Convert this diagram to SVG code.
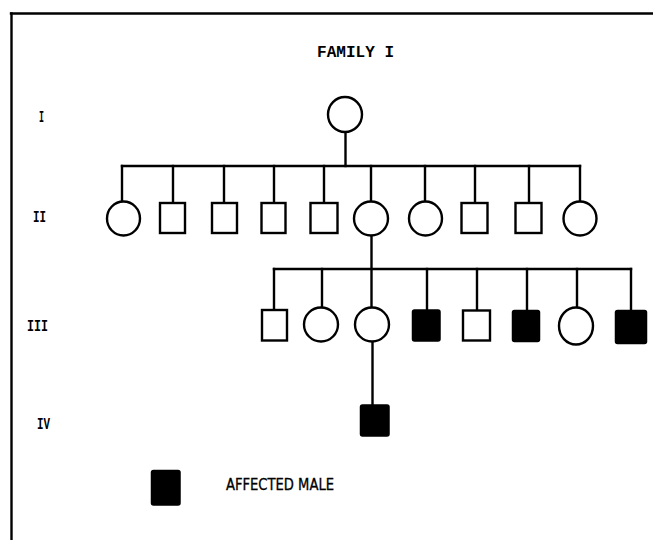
<svg xmlns="http://www.w3.org/2000/svg" width="653" height="540" viewBox="0 0 653 540">
<style>
.ln{stroke:#000;stroke-width:2.4;fill:none;stroke-linecap:square}
.m{fill:#fff;stroke:#000;stroke-width:2.4}
.f{fill:#fff;stroke:#000;stroke-width:2.4}
.a{fill:#000;stroke:#000;stroke-width:1.5}
.lab{font-family:"Liberation Mono","DejaVu Sans Mono",monospace;font-size:16px;font-weight:bold;fill:#000}
.ttl{font-family:"Liberation Mono","DejaVu Sans Mono",monospace;font-size:16px;font-weight:bold;fill:#000}
.leg{font-family:"DejaVu Sans Condensed","DejaVu Sans","Liberation Sans",sans-serif;font-size:15px;fill:#000;stroke:#000;stroke-width:0.3}
</style>
<rect width="653" height="540" fill="#fff"/>
<g id="frame">
<line class="ln" x1="11" y1="13.5" x2="653" y2="13.5"/>
<line class="ln" x1="11.5" y1="13.5" x2="11.5" y2="540"/>
</g>
<g id="title"><text class="ttl" x="317" y="57" textLength="77" lengthAdjust="spacingAndGlyphs">FAMILY I</text></g>
<g id="gen-labels">
<text class="lab" x="39" y="122" textLength="5" lengthAdjust="spacingAndGlyphs">I</text>
<text class="lab" x="33" y="222" textLength="13" lengthAdjust="spacingAndGlyphs">II</text>
<text class="lab" x="27" y="331" textLength="21" lengthAdjust="spacingAndGlyphs">III</text>
<text class="lab" x="37" y="429" textLength="13" lengthAdjust="spacingAndGlyphs">IV</text>
</g>
<g id="connectors">
<line class="ln" x1="345.5" y1="132" x2="345.5" y2="166"/>
<line class="ln" x1="122" y1="166" x2="580" y2="166"/>
<line class="ln" x1="122" y1="166" x2="122" y2="202"/>
<line class="ln" x1="173" y1="166" x2="173" y2="203"/>
<line class="ln" x1="224" y1="166" x2="224" y2="203"/>
<line class="ln" x1="274" y1="166" x2="274" y2="203"/>
<line class="ln" x1="324" y1="166" x2="324" y2="203"/>
<line class="ln" x1="371" y1="166" x2="371" y2="201"/>
<line class="ln" x1="425" y1="166" x2="425" y2="201"/>
<line class="ln" x1="475" y1="166" x2="475" y2="203"/>
<line class="ln" x1="529" y1="166" x2="529" y2="203"/>
<line class="ln" x1="580" y1="166" x2="580" y2="201"/>
<line class="ln" x1="371.5" y1="235" x2="371.5" y2="307"/>
<line class="ln" x1="274" y1="269" x2="631" y2="269"/>
<line class="ln" x1="274" y1="269" x2="274" y2="310"/>
<line class="ln" x1="322" y1="269" x2="322" y2="307"/>
<line class="ln" x1="427" y1="269" x2="427" y2="310"/>
<line class="ln" x1="477" y1="269" x2="477" y2="310"/>
<line class="ln" x1="527" y1="269" x2="527" y2="310"/>
<line class="ln" x1="577" y1="269" x2="577" y2="307"/>
<line class="ln" x1="631" y1="269" x2="631" y2="310"/>
<line class="ln" x1="372.5" y1="341" x2="372.5" y2="405"/>
</g>
<g id="I-1"><ellipse class="f" cx="345" cy="114.5" rx="17" ry="17.5"/></g>
<g id="II-1"><ellipse class="f" cx="123.5" cy="218.5" rx="16.5" ry="17"/></g>
<g id="II-2"><rect class="m" x="160" y="203" width="25" height="30"/></g>
<g id="II-3"><rect class="m" x="212" y="203" width="25" height="30"/></g>
<g id="II-4"><rect class="m" x="261.5" y="203" width="24" height="30"/></g>
<g id="II-5"><rect class="m" x="310.5" y="203" width="27" height="30"/></g>
<g id="II-6"><ellipse class="f" cx="371" cy="218.5" rx="17" ry="17"/></g>
<g id="II-7"><ellipse class="f" cx="425.5" cy="218.5" rx="16.5" ry="17"/></g>
<g id="II-8"><rect class="m" x="461.5" y="203" width="26" height="30"/></g>
<g id="II-9"><rect class="m" x="515.5" y="203" width="26" height="30"/></g>
<g id="II-10"><ellipse class="f" cx="580" cy="218.5" rx="16.5" ry="17"/></g>
<g id="III-1"><rect class="m" x="262" y="310" width="25" height="30.5"/></g>
<g id="III-2"><ellipse class="f" cx="321" cy="324.5" rx="17" ry="17"/></g>
<g id="III-3"><ellipse class="f" cx="372" cy="324.5" rx="17" ry="17"/></g>
<g id="III-4"><rect class="a" x="412.5" y="310" width="27.5" height="31" rx="2"/></g>
<g id="III-5"><rect class="m" x="463" y="310.5" width="27" height="30"/></g>
<g id="III-6"><rect class="a" x="512.5" y="310.5" width="27" height="31" rx="2"/></g>
<g id="III-7"><ellipse class="f" cx="576" cy="326" rx="17" ry="18.5"/></g>
<g id="III-8"><rect class="a" x="615.5" y="310.5" width="31" height="33" rx="2"/></g>
<g id="IV-1"><rect class="a" x="360.5" y="405" width="28.5" height="31" rx="2"/></g>
<g id="legend">
<rect class="a" x="151.5" y="470.5" width="28.5" height="34.5" rx="2"/>
<text class="leg" x="226" y="489.5" textLength="108" lengthAdjust="spacingAndGlyphs">AFFECTED MALE</text>
</g>
</svg>
